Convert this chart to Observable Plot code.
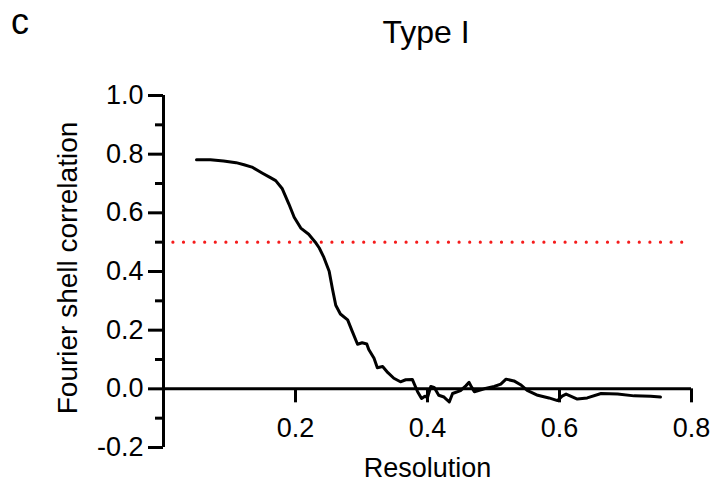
<!DOCTYPE html>
<html>
<head>
<meta charset="utf-8">
<script src="https://cdn.jsdelivr.net/npm/d3@7"></script>
<script src="https://cdn.jsdelivr.net/npm/@observablehq/plot@0.6"></script>
<style>
  body { margin: 0; background: #fff; }
  #wrap { position: relative; width: 713px; height: 486px; font-family: "Liberation Sans", Arial, sans-serif; }
  #panel { position: absolute; left: 11px; top: 4px; font-size: 36px; line-height: 1; }
  #title { position: absolute; left: 426px; top: 16px; font-size: 32px; line-height: 1; transform: translateX(-50%); white-space: nowrap; }
</style>
</head>
<body>
<div id="wrap">
  <div id="panel">c</div>
  <div id="title">Type I</div>
</div>
<script>
const resolution = [0.050,0.071,0.091,0.110,0.122,0.134,0.150,0.162,0.170,0.180,0.190,0.198,0.208,0.220,0.230,0.236,0.243,0.251,0.256,0.261,0.268,0.279,0.286,0.294,0.301,0.308,0.311,0.319,0.324,0.332,0.340,0.349,0.359,0.367,0.377,0.385,0.391,0.396,0.400,0.405,0.410,0.417,0.425,0.433,0.438,0.450,0.458,0.463,0.467,0.471,0.486,0.501,0.511,0.519,0.531,0.541,0.551,0.567,0.584,0.597,0.604,0.610,0.627,0.642,0.663,0.688,0.713,0.738,0.753];
const fsc = [0.781,0.781,0.777,0.771,0.764,0.756,0.735,0.720,0.710,0.682,0.630,0.585,0.548,0.527,0.500,0.480,0.448,0.401,0.340,0.285,0.255,0.235,0.196,0.152,0.157,0.153,0.134,0.104,0.072,0.076,0.055,0.036,0.024,0.031,0.032,-0.010,-0.033,-0.025,-0.030,0.008,0.005,-0.022,-0.028,-0.045,-0.016,-0.006,0.010,0.022,0.005,-0.010,0.000,0.008,0.016,0.033,0.027,0.014,-0.005,-0.022,-0.031,-0.040,-0.025,-0.018,-0.035,-0.031,-0.016,-0.018,-0.024,-0.025,-0.028];
const threshold = 0.5;
const thresholdRange = [0.015, 0.787];
const xTicks = [0.2, 0.4, 0.6, 0.8];
const yTicksMajor = [-0.2, 0.0, 0.2, 0.4, 0.6, 0.8, 1.0];
const yTicksMinor = [-0.1, 0.1, 0.3, 0.5, 0.7, 0.9];
const xLabel = "Resolution";
const yLabel = "Fourier shell correlation";

const data = resolution.map((r, i) => ({r, v: fsc[i]}));
const fmt = d => d.toFixed(1);
const font = "Liberation Sans, Arial, sans-serif";

const chart = Plot.plot({
  width: 713,
  height: 486,
  marginLeft: 163,
  marginRight: 22,
  marginTop: 95,
  marginBottom: 39,
  style: {fontFamily: font, background: "transparent"},
  x: {domain: [0, 0.8], axis: null},
  y: {domain: [-0.2, 1.0], axis: null},
  marks: [
    Plot.ruleY([threshold], {x1: thresholdRange[0], x2: thresholdRange[1], stroke: "#f51b1b", strokeWidth: 3.2, strokeDasharray: "0 10.6", strokeLinecap: "round"}),
    Plot.ruleX([0], {y1: yTicksMajor[0], y2: yTicksMajor[yTicksMajor.length - 1], stroke: "#000", strokeWidth: 3}),
    Plot.ruleY([0], {x1: 0, x2: xTicks[xTicks.length - 1], stroke: "#000", strokeWidth: 3}),
    Plot.ruleY(yTicksMajor, {y: d => d, x1: 0, x2: 0, insetLeft: -15, stroke: "#000", strokeWidth: 3}),
    Plot.ruleY(yTicksMinor, {y: d => d, x1: 0, x2: 0, insetLeft: -8, stroke: "#000", strokeWidth: 3}),
    Plot.text(yTicksMajor, {x: 0, y: d => d, text: fmt, textAnchor: "end", dx: -20, fontSize: 27, fill: "#000", fontFamily: font}),
    Plot.ruleX(xTicks, {x: d => d, y1: 0, y2: 0, insetBottom: -14, stroke: "#000", strokeWidth: 3}),
    Plot.text(xTicks, {x: d => d, y: 0, text: fmt, dy: 40, fontSize: 27, fill: "#000", fontFamily: font}),
    Plot.text([xLabel], {frameAnchor: "bottom", textAnchor: "middle", lineAnchor: "middle", dx: 0, dy: 21, fontSize: 27, fill: "#000", fontFamily: font}),
    Plot.text([yLabel], {frameAnchor: "left", textAnchor: "middle", lineAnchor: "middle", rotate: -90, dx: -95, dy: -3.5, fontSize: 28, fill: "#000", fontFamily: font}),
    Plot.line(data, {x: "r", y: "v", stroke: "#000", strokeWidth: 3, strokeLinejoin: "round"})
  ]
});
chart.style.position = "absolute";
chart.style.left = "0";
chart.style.top = "0";
document.getElementById("wrap").appendChild(chart);
</script>
</body>
</html>
